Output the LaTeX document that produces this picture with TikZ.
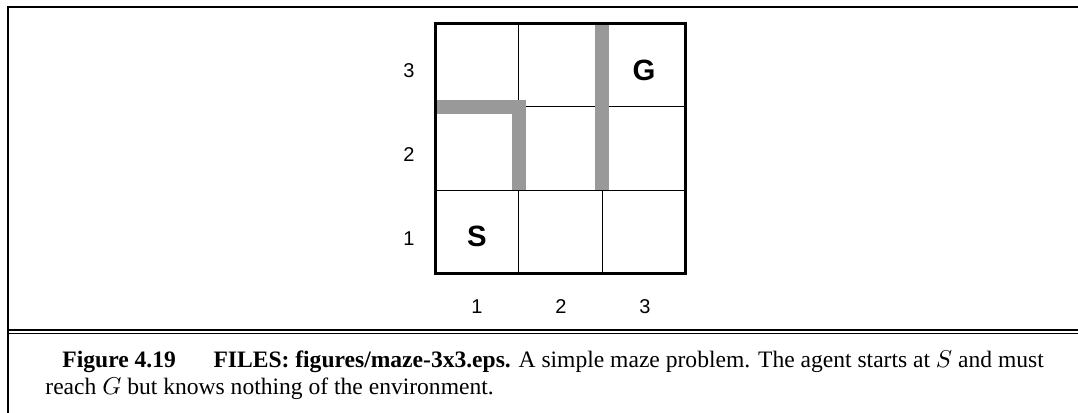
\documentclass[tikz,border=0pt]{standalone}
\usepackage{fontspec}
\setmainfont{Liberation Serif}
\setsansfont{Liberation Sans}
\usepackage{xcolor}
\usepackage{tikz}
\usetikzlibrary{positioning}
\definecolor{mazeInk}{HTML}{000000}
\definecolor{mazeWall}{HTML}{999999}
\tikzset{
  mazelabel/.style={font=\sffamily\fontsize{9}{10}\selectfont, inner sep=0pt, text=mazeInk},
  mazemark/.style={font=\sffamily\bfseries\fontsize{13.2}{15}\selectfont, inner sep=0pt, text=mazeInk},
  mazewall/.style={draw=mazeWall, line width=6.3pt, line cap=butt, line join=miter},
  capline/.style={font=\fontsize{10.6}{12.7}\selectfont, inner sep=0pt, anchor=base west},
}

\begin{document}
\begin{tikzpicture}[x=0.45pt, y=-0.45pt]
    \useasboundingbox (0,0) rectangle (1078,413);
    % figure frame
    \draw[line width=1.1pt] (8,413) -- (8,7) -- (1078,7);
    \draw[line width=0.9pt] (8,330) -- (1078,330);
    \draw[line width=0.45pt] (8,333.5) -- (1078,333.5);
    % grid
    \draw[line width=0.45pt] (518.7,23.5) -- (518.7,273.7);
    \draw[line width=0.45pt] (602.2,23.5) -- (602.2,273.7);
    \draw[line width=0.45pt] (435,107) -- (685.7,107);
    \draw[line width=0.45pt] (435,190.5) -- (685.7,190.5);
    % walls on top of the grid
    \draw[mazewall] (435,107) -| (518.7,190.5);
    \draw[mazewall] (602.2,23.5) -- (602.2,190.5);
    \draw[line width=1.35pt] (435,23.5) rectangle (685.7,273.7);
    % start and goal
    \node[mazemark] (start) at (477,236) {S};
    \node[mazemark] (goal) at (644,70.5) {G};
    % row and column numbers
    \node[mazelabel] (row3) at (409,71) {3};
    \node[mazelabel] (row2) at (409,155) {2};
    \node[mazelabel] (row1) at (409,239) {1};
    \node[mazelabel] (col1) at (477,306.5) {1};
    \node[mazelabel] (col2) at (561,306.5) {2};
    \node[mazelabel] (col3) at (645,306.5) {3};
    % caption
    \node[capline] (capA) at (62,368) {\textbf{Figure 4.19}\hspace{1.6em}\textbf{FILES: figures/maze-3x3.eps.} A simple maze problem. The agent starts at $S$ and must};
    \node[capline] (capB) at (45,395) {reach $G$ but knows nothing of the environment.};
\end{tikzpicture}
\end{document}
